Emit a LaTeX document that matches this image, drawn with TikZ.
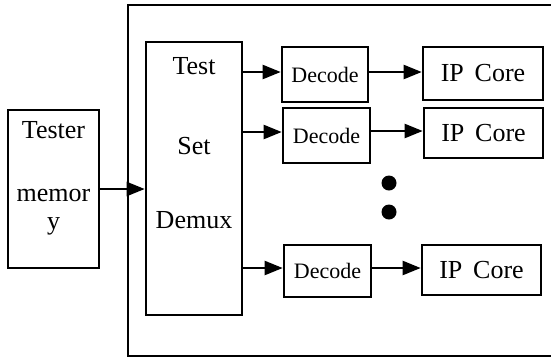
\documentclass[tikz,border=0pt]{standalone}
\usepackage{fontspec}
\setmainfont{Liberation Serif}
\usetikzlibrary{arrows.meta}
\tikzset{
  blk/.style={draw,line width=2.6pt,inner sep=0pt},
  arr/.style={line width=2.2pt,-{Triangle[length=18pt,width=14pt]}},
  big/.style={font=\fontsize{26}{29}\selectfont},
  small/.style={font=\fontsize{22}{25}\selectfont}
}
\begin{document}
\begin{tikzpicture}[x=1pt,y=-1pt]
  \useasboundingbox (0,0) rectangle (551,360);
  % chip boundary, open past the right border
  \draw[line width=2.6pt] (128,5) rectangle (562,356);
  % tester side
  \node[blk,minimum width=91pt,minimum height=158pt] (tester) at (53.5,189) {};
  \node[big] (tst1) at (53.5,130) {Tester};
  \node[big] (tst2) at (53.5,195) {memor};
  \node[big] (tst3) at (53.5,226) {y};
  % demultiplexer
  \node[blk,minimum width=96pt,minimum height=273pt] (demux) at (194,178.5) {};
  \node[big] (dmx1) at (194,66) {Test};
  \node[big] (dmx2) at (194,146) {Set};
  \node[big] (dmx3) at (194,220) {Demux};
  % decoders and cores
  \node[blk,small,minimum width=86pt,minimum height=55pt] (dec1) at (325,74.5) {Decode};
  \node[blk,small,minimum width=87pt,minimum height=55pt] (dec2) at (326.5,135.5) {Decode};
  \node[blk,small,minimum width=87pt,minimum height=52pt] (dec3) at (327.5,271) {Decode};
  \node[blk,big,minimum width=120pt,minimum height=53pt] (ip1) at (483,73.5) {IP\, Core};
  \node[blk,big,minimum width=119pt,minimum height=50pt] (ip2) at (483.5,133) {IP\, Core};
  \node[blk,big,minimum width=119pt,minimum height=50pt] (ip3) at (481.5,270) {IP\, Core};
  \fill (389,183) circle (7.5pt) (389,212) circle (7.5pt);
  % connections
  \draw[arr] (tester.east) -- (tester.east -| demux.west);
  \draw[arr] (demux.east |- 0,72) -- (dec1.west |- 0,72);
  \draw[arr] (demux.east |- 0,132) -- (dec2.west |- 0,132);
  \draw[arr] (demux.east |- 0,268) -- (dec3.west |- 0,268);
  \draw[arr] (dec1.east |- 0,72) -- (ip1.west |- 0,72);
  \draw[arr] (dec2.east |- 0,131) -- (ip2.west |- 0,131);
  \draw[arr] (dec3.east |- 0,268) -- (ip3.west |- 0,268);
\end{tikzpicture}
\end{document}
